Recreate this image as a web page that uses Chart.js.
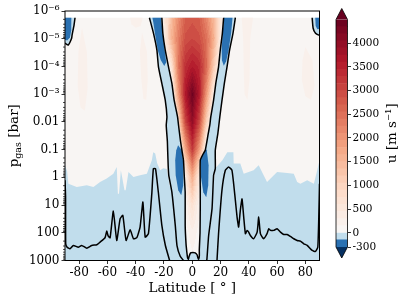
<!DOCTYPE html>
<html><head><meta charset="utf-8">
<script src="https://cdn.jsdelivr.net/npm/chart.js@4.4.0/dist/chart.umd.min.js"></script>
<style>
html,body{margin:0;padding:0;background:#fff;}
#wrap{position:relative;width:407px;height:304px;}
canvas{position:absolute;left:0;top:0;}
</style></head><body>
<div id="wrap"><canvas id="main" width="407" height="304"></canvas><canvas id="cb" width="407" height="304"></canvas></div>
<script>
// ---------------- data ----------------
const xTicks = [-80, -60, -40, -20, 0, 20, 40, 60, 80];
const yTicks = [1e-6, 1e-5, 1e-4, 1e-3, 1e-2, 1e-1, 1, 10, 100, 1000];
const yTickLabels = ['10⁻⁶', '10⁻⁵', '10⁻⁴', '10⁻³', '0.01', '0.1', '1', '10', '100', '1000'];
const cbTicks = [-300, 0, 500, 1000, 1500, 2000, 2500, 3000, 3500, 4000];
const cbLevels = [-300, -150, 0, 150, 300, 450, 600, 750, 900, 1050, 1200, 1350, 1500, 1650, 1800, 1950, 2100,
  2250, 2400, 2550, 2700, 2850, 3000, 3150, 3300, 3450, 3600, 3750, 3900, 4050, 4200, 4350, 4500];
const xTitle = 'Latitude [ ° ]';
const yTitleMain = 'p', yTitleSub = 'gas', yTitleRest = ' [bar]';
const cbTitle = 'u [m s⁻¹]';
const pTop = 1.75e-6, pBottom = 1000;

// equatorial jet core: u [m/s] on (latitude, pressure) nodes
const coreLat = [-25, -20, -15, -10, -5, 0, 5, 10, 15, 20, 25];
const coreP = [1.75e-6, 1e-5, 1e-4, 1e-3, 1e-2, 0.1, 0.316, 1, 10, 100, 1000];
const coreU = [
  [-100, 400, 1400, 2100, 2700, 2800, 2700, 2200, 1500, 600, -100],
  [-100, 300, 1500, 2300, 2900, 3000, 2900, 2500, 1700, 400, -100],
  [-100, -100, 500, 2400, 3300, 3600, 3400, 2600, 1200, 100, -100],
  [-100, -100, -100, 1900, 3600, 4400, 3600, 2000, 400, -100, -100],
  [-100, -100, -100, 800, 3000, 4000, 3000, 1100, -100, -100, -100],
  [-100, -100, -100, -100, 1700, 3200, 1900, 0, -100, -100, -100],
  [-100, -100, -100, -100, 900, 2400, 1000, -100, -100, -100, -100],
  [-100, -100, -100, -100, 300, 1700, 400, -100, -100, -100, -100],
  [-100, -100, -100, -100, 100, 700, 150, -100, -100, -100, -100],
  [-100, -100, -100, -100, 50, 250, 80, -100, -100, -100, -100],
  [-100, -100, -100, -100, 0, 100, 30, -100, -100, -100, -100]
];

// u = 0 contours [lat, p]
const coreEdge = [[-21.5,1.75e-6],[-20.8,6.4e-6],[-19.1,2.6e-5],[-16.8,1.03e-4],[-14.4,4.1e-4],[-12.8,1.64e-3],[-10.4,6.6e-3],[-9.7,0.0132],[-8.3,0.05],[-7.3,0.105],[-6.2,0.243],[-5.6,1.0],[-5.0,3.48],[-5.0,54],[-4.4,250],[-3.8,513],[-3.3,800],[-2.7,900],[-2.2,700],[-1.2,530],[0.5,513],[2.1,530],[3.4,620],[4.0,800],[4.5,900],[5.0,700],[5.0,400],[5.5,100],[5.67,10],[5.67,3.48],[5.67,0.243],[7.5,0.15],[9.2,0.105],[11.3,0.0265],[12.4,0.0132],[13.1,6.6e-3],[15.1,1.64e-3],[16.65,4.1e-4],[18.6,1.03e-4],[19.8,2.6e-5],[21.3,6.4e-6],[22.2,1.75e-6]];
const outerLeft = [[-30.3,1.75e-6],[-27.4,6.4e-6],[-25.0,2.6e-5],[-23.9,1.03e-4],[-21.5,4.1e-4],[-19.1,1.64e-3],[-17.9,6.6e-3],[-18.4,0.0132],[-17.6,0.05],[-17.4,0.105],[-17.0,0.4],[-16.6,0.845],[-14.4,3.39],[-12.0,54],[-10.8,288],[-8.5,700],[-6.2,1000]];
const outerRight = [[30.5,1.75e-6],[28.8,6.4e-6],[26.4,2.6e-5],[24.6,1.03e-4],[22.7,4.1e-4],[21.05,1.64e-3],[19.5,6.6e-3],[18.1,0.0265],[16.3,0.105],[16.3,0.484],[15.1,0.845],[14.0,13.5],[11.6,125],[10.4,871],[10.2,1000]];
const wigglyLeft = [[-90,1.28],[-89.6,5],[-89.5,249],[-88.5,330],[-86.5,377],[-84.1,286],[-80.6,330],[-78.2,286],[-74.6,358],[-71.1,286],[-67.5,270],[-65.2,217],[-61.7,151],[-60.5,87],[-59.5,130],[-58.1,151],[-55.8,16.5],[-53.4,189],[-51.0,31],[-49.1,23.6],[-46.8,189],[-43.9,78],[-41.6,164],[-39.2,151],[-36.9,62],[-34.9,7.8],[-33.3,143],[-31.0,108],[-28.6,3.88],[-27.5,0.484],[-26,0.484],[-24,3.39],[-21.5,54],[-19,288],[-16,1000]];
const wigglyRight = [[17.5,1000],[18.6,108],[21.0,2.94],[23.4,0.557],[25.7,0.424],[28.1,0.557],[30.5,6.76],[31.7,27.2],[32.8,62],[34.0,15.5],[35.2,6],[36.4,27.2],[37.6,108],[38.8,82],[39.9,95],[41.1,125],[43.4,164],[45.9,95],[47.0,27.2],[48.2,108],[50.5,164],[52.9,108],[54.1,72],[55.3,82],[57.6,82],[60.0,72],[62.4,95],[64.7,115],[67.1,115],[69.4,135],[71.8,164],[74.2,189],[76.5,200],[78.9,249],[81.3,286],[84.8,435],[87.2,472],[88.8,330],[89.5,27.2],[90,1.69]];
const polarLeftEdge = [[-82.9,1.75e-6],[-83.6,3.2e-6],[-85.0,7.4e-6],[-85.3,9.7e-6],[-87.7,1.7e-5],[-90,1.44e-5]];
const polarRightEdge = [[84.8,1.75e-6],[85.5,4.2e-6],[87.2,6.4e-6],[89.5,7.4e-6],[90,7.2e-6]];

// top of the deep negative (light blue) layer
const deepEdge = [[-90,0.37],[-88.5,0.6],[-87.6,1.69],[-81.7,2.24],[-74.6,1.95],[-69.9,2.24],[-65.2,1.48],[-60.5,1.11],[-55.8,0.735],[-53.4,0.424],[-52.6,3.88],[-51.8,3.88],[-50.5,0.557],[-47.9,2.94],[-47.1,2.94],[-45.1,0.643],[-41.6,0.975],[-36.9,0.845],[-32.1,0.735],[-28.6,0.243],[-27.6,0.125],[-26.2,0.139],[-24.8,0.311],[-22.7,0.557],[-20.5,0.468],[-18,0.5],[-16,2],[15,2],[16.3,0.484],[18.5,0.35],[21.3,0.243],[24.8,0.125],[29.1,0.125],[29.3,0.32],[34,0.32],[36.4,0.735],[43.4,0.557],[47,0.368],[50.5,0.845],[52.9,1.48],[60,0.643],[67.1,0.698],[71.8,0.735],[74.2,1.48],[76.5,1.69],[81.3,1.28],[86,1.69],[88.4,0.557],[90,0.243]];

// -300..-150 patches
const darkUpperLeft = [[-28.2,1.75e-6],[-22.0,1.75e-6],[-20.9,6.3e-6],[-19.5,2.6e-5],[-18.4,7e-5],[-19.8,9.7e-5],[-22.3,5.9e-5],[-24.4,2.6e-5],[-26.2,7.4e-6],[-27.6,2.5e-6]];
const darkUpperRight = [[22.5,1.75e-6],[28.5,1.75e-6],[27.5,6.4e-6],[25.7,2.6e-5],[24.0,6.5e-5],[22.3,9.5e-5],[21.0,6e-5],[20.8,2.6e-5],[21.5,6.4e-6]];
const darkLowerLeft = [[-10.0,0.07],[-7.4,0.105],[-6.2,0.37],[-6.4,1.95],[-7.8,4.47],[-9.9,2.94],[-11.7,0.845],[-12.05,0.243],[-11.3,0.105]];
const darkLowerRight = [[7.8,0.07],[10.3,0.105],[11.55,0.37],[11.3,1.95],[9.9,5.27],[7.8,3.48],[6.0,0.845],[5.7,0.243],[6.4,0.105]];
const darkPolarLeft = [[-90,1.75e-6],[-85.5,1.75e-6],[-85.6,5e-6],[-86.5,9e-6],[-88.5,1.15e-5],[-90,1.1e-5]];
const darkPolarRight = [[87.0,1.75e-6],[90,1.75e-6],[90,4.5e-6],[88.5,4.6e-6],[87.3,3.5e-6]];

// 150..300 patches
const faintA = [[-44,1.75e-6],[-35,1.75e-6],[-36.5,3.5e-6],[-40,4e-6],[-43,3e-6]];
const faintB = [[-35.5,6e-6],[-32,3e-5],[-31.5,3e-4],[-32.5,1.6e-3],[-34.5,1.5e-3],[-36,3e-4],[-37,3e-5]];
const faintC = [[-78,4e-6],[-74.5,3e-5],[-74,6e-4],[-76,4e-3],[-79,3e-3],[-81,5e-4],[-80.5,3e-5]];
const faintD = [[35,1.75e-6],[43,1.75e-6],[41,1e-5],[40.5,3e-4],[39,1.6e-3],[37,1e-3],[36.5,2e-4],[36,1e-5]];
const faintE = [[80,2e-5],[85,6e-5],[86.5,5e-4],[84,1.6e-3],[80,1.2e-3],[77.5,3e-4],[78,6e-5]];

// ---------------- colours ----------------
const FAM = 'DejaVu Serif';
Chart.defaults.font.family = FAM;
Chart.defaults.color = '#000';
const RDBU = [[5,48,97],[33,102,172],[67,147,195],[146,197,222],[209,229,240],[247,247,247],[253,219,199],[244,165,130],[214,96,77],[178,24,43],[103,0,31]];
function cmap(t){ t=Math.max(0,Math.min(1,t)); const s=t*10; const i=Math.min(9,Math.floor(s)); const f=s-i;
  const c=RDBU[i].map((v,k)=>Math.round(v+(RDBU[i+1][k]-v)*f)); return 'rgb('+c.join(',')+')'; }
const vMin = cbLevels[0], vMax = cbLevels[cbLevels.length-1];
function norm(v){ return v<0 ? 0.5*(v-vMin)/(0-vMin) : 0.5+0.5*v/vMax; }
const bandColors = cbLevels.slice(0,-1).map((lo,i)=>cmap(norm((lo+cbLevels[i+1])/2)));
const underColor = cmap(0), overColor = cmap(1);
function colorFor(u){ if(u<vMin) return underColor; if(u>=vMax) return overColor; let i=0; while(u>=cbLevels[i+1]) i++; return bandColors[i]; }
const LIGHTBLUE = bandColors[1], DARKBLUE = bandColors[0], NEAR0 = bandColors[2], FAINT = bandColors[3];

const coreLogP = coreP.map(v=>Math.log10(v));
function coreValue(lat, lp){
  let i=0; while(i<coreLat.length-2 && lat>coreLat[i+1]) i++;
  let j=0; while(j<coreLogP.length-2 && lp>coreLogP[j+1]) j++;
  let fx=(lat-coreLat[i])/(coreLat[i+1]-coreLat[i]); fx=Math.max(0,Math.min(1,fx));
  let fy=(lp-coreLogP[j])/(coreLogP[j+1]-coreLogP[j]); fy=Math.max(0,Math.min(1,fy));
  const a=coreU[j][i], b=coreU[j][i+1], c=coreU[j+1][i], d=coreU[j+1][i+1];
  return (a*(1-fx)+b*fx)*(1-fy)+(c*(1-fx)+d*fx)*fy;
}

const toXY = arr => arr.map(([x,y])=>({x,y}));
const lineDS = arr => ({data: toXY(arr), showLine:true, pointRadius:0, borderColor:'#000', borderWidth:1.5, tension:0.15, fill:false});

const fieldPlugin = {
  id:'field',
  beforeDatasetsDraw(chart){
    const {ctx, chartArea:a, scales:{x,y}} = chart;
    const P = pt => [x.getPixelForValue(pt[0]), y.getPixelForValue(pt[1])];
    const path = pts => { ctx.beginPath(); pts.forEach((pt,i)=>{const [X,Y]=P(pt); if(i) ctx.lineTo(X,Y); else ctx.moveTo(X,Y);}); ctx.closePath(); };
    const poly = (pts,col) => { path(pts); ctx.fillStyle=col; ctx.fill(); };
    ctx.save();
    ctx.beginPath(); ctx.rect(a.left,a.top,a.right-a.left,a.bottom-a.top); ctx.clip();
    poly([[-90,pTop],[90,pTop],[90,pBottom],[-90,pBottom]], NEAR0);
    [faintA,faintB,faintC,faintD,faintE].forEach(f=>poly(f,FAINT));
    poly(deepEdge.concat([[90,pBottom],[-90,pBottom]]), LIGHTBLUE);
    poly(outerLeft.concat(outerRight.slice().reverse()), LIGHTBLUE);
    poly(polarLeftEdge.concat([[-90,pTop]]), LIGHTBLUE);
    poly(polarRightEdge.concat([[90,pTop]]), LIGHTBLUE);
    [darkUpperLeft,darkUpperRight,darkLowerLeft,darkLowerRight,darkPolarLeft,darkPolarRight].forEach(f=>poly(f,DARKBLUE));
    // jet core
    ctx.save();
    path(coreEdge); ctx.clip();
    const x0=Math.floor(x.getPixelForValue(coreLat[0])), x1=Math.ceil(x.getPixelForValue(coreLat[coreLat.length-1]));
    for(let py=Math.floor(a.top); py<Math.ceil(a.bottom); py++){
      const p=y.getValueForPixel(py+0.5); if(p<pTop*0.9) continue;
      const lp=Math.log10(p);
      let runStart=x0, runCol=null;
      for(let px=x0; px<=x1; px++){
        const c=colorFor(coreValue(x.getValueForPixel(px+0.5), lp));
        if(c!==runCol){ if(runCol){ctx.fillStyle=runCol; ctx.fillRect(runStart,py,px-runStart,1);} runCol=c; runStart=px; }
      }
      if(runCol){ctx.fillStyle=runCol; ctx.fillRect(runStart,py,x1+1-runStart,1);}
    }
    ctx.restore();
    ctx.restore();
  },
  afterDraw(chart){
    const {ctx, chartArea:a, scales:{y}} = chart;
    ctx.save();
    ctx.strokeStyle='#000'; ctx.lineWidth=1;
    ctx.strokeRect(a.left,a.top,a.right-a.left,a.bottom-a.top);
    ctx.lineWidth=0.7;
    for(let k=-6;k<3;k++) for(let m=2;m<10;m++){
      const Y=y.getPixelForValue(m*Math.pow(10,k));
      ctx.beginPath(); ctx.moveTo(a.left,Y); ctx.lineTo(a.left-2,Y); ctx.stroke();
    }
    ctx.fillStyle='#000';
    ctx.font='13.5px "'+FAM+'"'; ctx.textAlign='center'; ctx.textBaseline='middle';
    ctx.fillText(xTitle,(a.left+a.right)/2,288);
    ctx.translate(13,(a.top+a.bottom)/2); ctx.rotate(-Math.PI/2);
    const f1='13.5px "'+FAM+'"', f2='9.5px "'+FAM+'"';
    ctx.font=f1; const w1=ctx.measureText(yTitleMain).width, w3=ctx.measureText(yTitleRest).width;
    ctx.font=f2; const w2=ctx.measureText(yTitleSub).width;
    let sx=-(w1+w2+w3)/2; ctx.textAlign='left'; ctx.textBaseline='alphabetic';
    ctx.font=f1; ctx.fillText(yTitleMain,sx,4.5); sx+=w1;
    ctx.font=f2; ctx.fillText(yTitleSub,sx,7.5); sx+=w2;
    ctx.font=f1; ctx.fillText(yTitleRest,sx,4.5);
    ctx.restore();
  }
};

new Chart(document.getElementById('main'), {
  type:'scatter',
  data:{datasets:[coreEdge,outerLeft,outerRight,wigglyLeft,wigglyRight,polarLeftEdge,polarRightEdge].map(lineDS)},
  options:{
    responsive:false, animation:false, devicePixelRatio:1,
    layout:{padding:{left:0,right:87.5,top:11,bottom:0}},
    plugins:{legend:{display:false},tooltip:{enabled:false}},
    scales:{
      x:{type:'linear',min:-90,max:90,
        afterBuildTicks:s=>{s.ticks=xTicks.map(v=>({value:v}));},
        afterFit:s=>{s.height=43.5;},
        ticks:{autoSkip:false,maxRotation:0,padding:2,font:{size:12,family:FAM},color:'#000',callback:v=>String(v)},
        grid:{drawOnChartArea:false,drawTicks:true,tickLength:3.5,color:'#000',lineWidth:0.8},
        border:{display:false}},
      y:{type:'logarithmic',reverse:true,min:1e-6,max:1000,
        afterBuildTicks:s=>{s.ticks=yTicks.map(v=>({value:v}));},
        afterFit:s=>{s.width=65;},
        ticks:{autoSkip:false,padding:2,font:{size:12,family:FAM},color:'#000',callback:v=>{const i=yTicks.indexOf(v);return i>=0?yTickLabels[i]:'';}},
        grid:{drawOnChartArea:false,drawTicks:true,tickLength:3.5,color:'#000',lineWidth:0.8},
        border:{display:false}}
    }
  },
  plugins:[fieldPlugin]
});

// ---------------- colour bar ----------------
const cbPlugin = {
  id:'cbext',
  afterDatasetsDraw(chart){
    const {ctx, chartArea:a} = chart;
    const mid=(a.left+a.right)/2, ext=11;
    ctx.save();
    ctx.fillStyle=overColor; ctx.beginPath(); ctx.moveTo(a.left,a.top); ctx.lineTo(mid,a.top-ext); ctx.lineTo(a.right,a.top); ctx.closePath(); ctx.fill();
    ctx.fillStyle=underColor; ctx.beginPath(); ctx.moveTo(a.left,a.bottom); ctx.lineTo(mid,a.bottom+ext); ctx.lineTo(a.right,a.bottom); ctx.closePath(); ctx.fill();
    ctx.strokeStyle='#000'; ctx.lineWidth=0.8;
    ctx.beginPath(); ctx.moveTo(a.left,a.top); ctx.lineTo(mid,a.top-ext); ctx.lineTo(a.right,a.top); ctx.lineTo(a.right,a.bottom);
    ctx.lineTo(mid,a.bottom+ext); ctx.lineTo(a.left,a.bottom); ctx.closePath(); ctx.stroke();
    ctx.fillStyle='#000'; ctx.font='13.5px "'+FAM+'"'; ctx.textAlign='center'; ctx.textBaseline='middle';
    ctx.translate(392,(a.top+a.bottom)/2); ctx.rotate(-Math.PI/2); ctx.fillText(cbTitle,0,0);
    ctx.restore();
  }
};
new Chart(document.getElementById('cb'), {
  type:'bar',
  data:{labels:[''], datasets:bandColors.map((c,i)=>({data:[[cbLevels[i],cbLevels[i+1]]], backgroundColor:c, borderWidth:0, grouped:false, barPercentage:1, categoryPercentage:1}))},
  options:{
    responsive:false, animation:false, devicePixelRatio:1,
    layout:{padding:{left:336,right:0,top:19.5,bottom:57}},
    plugins:{legend:{display:false},tooltip:{enabled:false}},
    scales:{
      x:{display:false},
      y:{position:'right',min:vMin,max:vMax,
        afterBuildTicks:s=>{s.ticks=cbTicks.map(v=>({value:v}));},
        afterFit:s=>{s.width=59.5;},
        ticks:{autoSkip:false,padding:1.5,font:{size:10.5,family:FAM},color:'#000',callback:v=>String(v)},
        grid:{drawOnChartArea:false,drawTicks:true,tickLength:3.5,color:'#000',lineWidth:0.8},
        border:{display:false}}
    }
  },
  plugins:[cbPlugin]
});
</script></body></html>
